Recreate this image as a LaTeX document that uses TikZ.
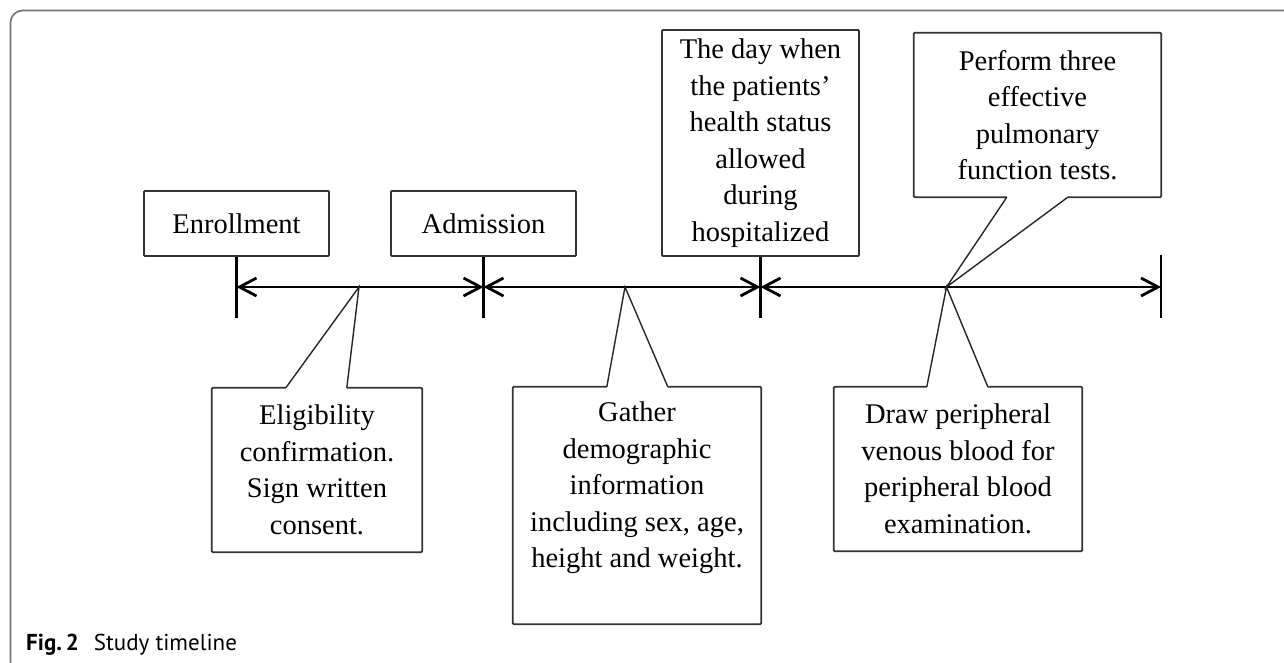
\documentclass[tikz,border=0pt]{standalone}
\usepackage{fontspec}
\setmainfont{Liberation Serif}
\newfontfamily\capfont{PT Sans}
\usetikzlibrary{arrows.meta,positioning,calc}

\begin{document}
\begin{tikzpicture}[
    x=1pt, y=-1pt,
    font=\fontsize{28.5}{36.5}\selectfont,
    box/.style={draw=black!80, line width=1.8pt, align=center, inner sep=0pt, rounded corners=1pt},
    topbox/.style={box, minimum width=185pt, minimum height=65pt},
    calloutbox/.style={minimum width=248pt, minimum height=164pt, inner sep=0pt},
    outline/.style={draw=black!80, line width=1.8pt, rounded corners=1pt},
    pointer/.style={draw=black!85, line width=1.4pt},
    txt/.style={align=center, inner sep=0pt},
    axis/.style={line width=2.8pt, >={Straight Barb[length=17pt,width=18pt]}, <->},
    tickline/.style={line width=2.8pt},
    frame/.style={draw=black!55, line width=1.6pt, rounded corners=12pt},
]
    \useasboundingbox (0,0) rectangle (1284,662);
    \clip (0,0) rectangle (1284,662);

    % frame and caption
    \draw[frame] (1300,10.5) -- (10.5,10.5) -- (10.5,674) -- (1300,674);
    \node[anchor=base west, inner sep=0pt, font={\capfont\fontsize{23}{26}\selectfont}] (cap) at (26,650)
        {\textbf{Fig.\,2}\hspace{0.65em}Study timeline};

    % boxes above the axis
    \node[topbox] (enr) at (236.5,223.5) {Enrollment};
    \node[topbox] (adm) at (483.5,223.5) {Admission};
    \node[box, minimum width=197pt, minimum height=226pt] (day) at (760.5,143)
        {The day when\\the patients'\\health status\\allowed\\during\\hospitalized};

    % time points on the axis
    \coordinate (t1) at (236.5,287);
    \coordinate (t2) at (483.5,287);
    \coordinate (t3) at (760.5,287);
    \coordinate (t4) at (1161,287);

    % ticks
    \draw[tickline] (enr.south) -- ($(t1)+(0,31)$);
    \draw[tickline] (adm.south) -- ($(t2)+(0,31)$);
    \draw[tickline] (day.south) -- ($(t3)+(0,31)$);
    \draw[tickline] ($(t4)+(0,-32)$) -- ($(t4)+(0,31)$);

    % axis segments
    \draw[axis] (t1) -- (t2);
    \draw[axis] (t2) -- (t3);
    \draw[axis] (t3) -- (t4);

    % where the callouts point
    \coordinate (c1) at (359,287);
    \coordinate (c2) at (625,287);
    \coordinate (c3) at (946.5,287);

    % callout: eligibility
    \node[calloutbox, minimum width=210pt] (eligbox) at (317,470) {};
    \draw[outline] ($(eligbox.north west)+(74,0)$) -- (eligbox.north west) -- (eligbox.south west)
        -- (eligbox.south east) -- (eligbox.north east) -- ($(eligbox.north west)+(135,0)$);
    \draw[pointer] ($(eligbox.north west)+(74,0)$) -- (c1) -- ($(eligbox.north west)+(135,0)$);
    \node[txt] (elig) at (eligbox.center) {Eligibility\\confirmation.\\Sign written\\consent.};

    % callout: demographics
    \node[calloutbox, minimum height=237pt] (gatherbox) at (637,505.5) {};
    \draw[outline] ($(gatherbox.north west)+(94,0)$) -- (gatherbox.north west) -- (gatherbox.south west)
        -- (gatherbox.south east) -- (gatherbox.north east) -- ($(gatherbox.north west)+(155,0)$);
    \draw[pointer] ($(gatherbox.north west)+(94,0)$) -- (c2) -- ($(gatherbox.north west)+(155,0)$);
    \node[txt, below=15pt of gatherbox.north] (gather)
        {Gather\\demographic\\information\\including sex, age,\\height and weight.};

    % callout: blood sample
    \node[calloutbox] (bloodbox) at (958,469) {};
    \draw[outline] ($(bloodbox.north west)+(93,0)$) -- (bloodbox.north west) -- (bloodbox.south west)
        -- (bloodbox.south east) -- (bloodbox.north east) -- ($(bloodbox.north west)+(154,0)$);
    \draw[pointer] ($(bloodbox.north west)+(93,0)$) -- (c3) -- ($(bloodbox.north west)+(154,0)$);
    \node[txt] (blood) at (bloodbox.center) {Draw peripheral\\venous blood for\\peripheral blood\\examination.};

    % callout: pulmonary function (above the axis)
    \node[calloutbox, minimum width=247pt] (pftbox) at (1037.5,115) {};
    \draw[outline] ($(pftbox.south west)+(93,0)$) -- (pftbox.south west) -- (pftbox.north west)
        -- (pftbox.north east) -- (pftbox.south east) -- ($(pftbox.south west)+(154,0)$);
    \draw[pointer] ($(pftbox.south west)+(93,0)$) -- (c3) -- ($(pftbox.south west)+(154,0)$);
    \node[txt] (pft) at (pftbox.center) {Perform three\\effective\\pulmonary\\function tests.};
\end{tikzpicture}
\end{document}
